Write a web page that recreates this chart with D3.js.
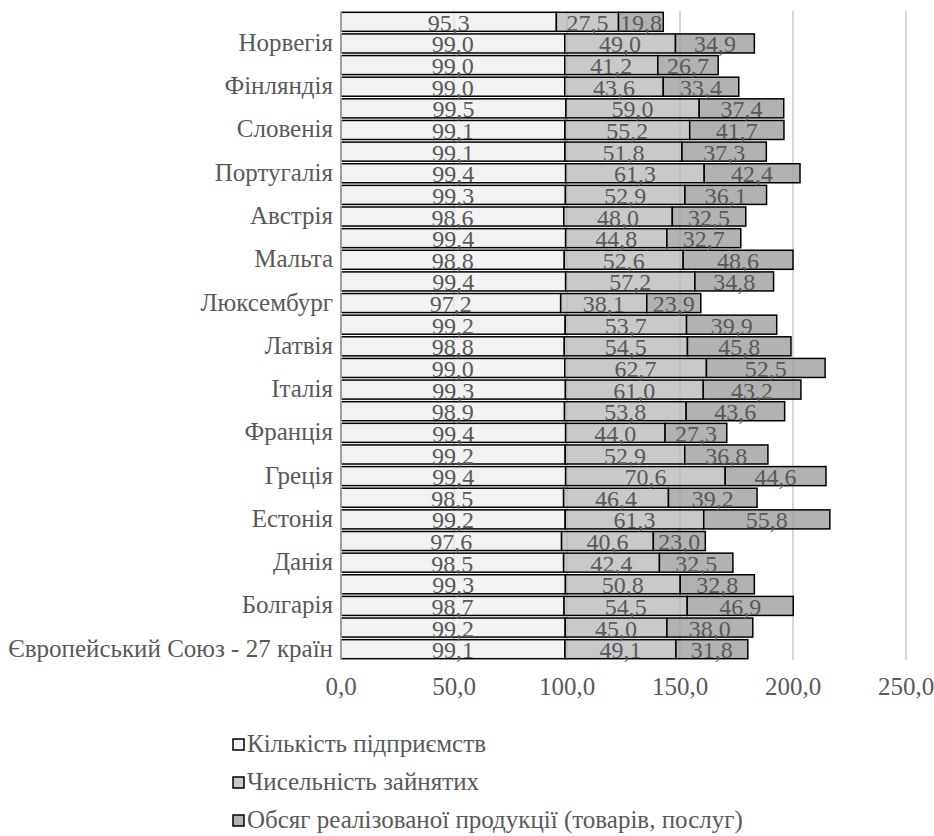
<!DOCTYPE html>
<html><head><meta charset="utf-8">
<script src="https://cdn.jsdelivr.net/npm/d3@7"></script>
<style>body{margin:0;background:#fff}svg{display:block}
text{font-family:"Liberation Serif","Times New Roman","DejaVu Serif",serif;fill:#595959}</style>
</head><body>
<svg id="c" width="934" height="836"></svg>
<script>
// categories top to bottom
const categories = ["Швейцарія","Норвегія","Швеція","Фінляндія","Словаччина","Словенія","Румунія","Португалія","Польща","Австрія","Нідерланди","Мальта","Угорщина","Люксембург","Литва","Латвія","Кіпр","Італія","Хорватія","Франція","Іспанія","Греція","Ірландія","Естонія","Німеччина","Данія","Чехія","Болгарія","Бельгія","Європейський Союз - 27 країн"];
const shownLabels = ["Норвегія","Фінляндія","Словенія","Португалія","Австрія","Мальта","Люксембург","Латвія","Італія","Франція","Греція","Естонія","Данія","Болгарія","Європейський Союз - 27 країн"];
const seriesNames = ["Кількість підприємств","Чисельність зайнятих","Обсяг реалізованої продукції (товарів, послуг)"];
const enterprises = [95.3,99.0,99.0,99.0,99.5,99.1,99.1,99.4,99.3,98.6,99.4,98.8,99.4,97.2,99.2,98.8,99.0,99.3,98.9,99.4,99.2,99.4,98.5,99.2,97.6,98.5,99.3,98.7,99.2,99.1];
const employed = [27.5,49.0,41.2,43.6,59.0,55.2,51.8,61.3,52.9,48.0,44.8,52.6,57.2,38.1,53.7,54.5,62.7,61.0,53.8,44.0,52.9,70.6,46.4,61.3,40.6,42.4,50.8,54.5,45.0,49.1];
const turnover = [19.8,34.9,26.7,33.4,37.4,41.7,37.3,42.4,36.1,32.5,32.7,48.6,34.8,23.9,39.9,45.8,52.5,43.2,43.6,27.3,36.8,44.6,39.2,55.8,23.0,32.5,32.8,46.9,38.0,31.8];
const xTicks = [0,50,100,150,200,250];

const colors = ["#f2f2f2","#c9c9c9","#b2b2b2"];
const fs = 25;

const svg = d3.select("#c");
const x = d3.scaleLinear().domain([0,250]).range([341,906]);
const y = d3.scaleBand().domain(categories).range([11,660]).paddingInner(0.12).paddingOuter(0.06);

// gridlines
svg.append("g").selectAll("line").data(xTicks.slice(1)).join("line")
  .attr("x1",d=>x(d)).attr("x2",d=>x(d)).attr("y1",y.range()[0]).attr("y2",y.range()[1])
  .attr("stroke","#d9d9d9").attr("stroke-width",1.5);

const stackData = categories.map((c,i)=>{const o={cat:c}; o[seriesNames[0]]=enterprises[i]; o[seriesNames[1]]=employed[i]; o[seriesNames[2]]=turnover[i]; return o;});
const stack = d3.stack().keys(seriesNames)(stackData);

const g = svg.append("g");
stack.forEach((layer,k)=>{
  g.append("g").selectAll("rect").data(layer).join("rect")
    .attr("x",d=>x(d[0])).attr("width",d=>x(d[1])-x(d[0]))
    .attr("y",d=>y(d.data.cat)).attr("height",y.bandwidth())
    .attr("fill",colors[k]).attr("stroke","#000").attr("stroke-width",1.5);
});
// faint gridlines over bars
svg.append("g").selectAll("line").data(xTicks.slice(1)).join("line")
  .attr("x1",d=>x(d)).attr("x2",d=>x(d)).attr("y1",y.range()[0]).attr("y2",y.range()[1])
  .attr("stroke","#000").attr("stroke-opacity",0.06).attr("stroke-width",1.5);

// axis line
svg.append("line").attr("x1",x(0)).attr("x2",x(0)).attr("y1",y.range()[0]).attr("y2",y.range()[1])
  .attr("stroke","#bfbfbf").attr("stroke-width",1.5);

// data labels
stack.forEach((layer,k)=>{
  g.append("g").selectAll("text").data(layer).join("text")
    .attr("x",d=>x((d[0]+d[1])/2)).attr("y",d=>y(d.data.cat)+y.bandwidth()-0.5)
    .attr("text-anchor","middle").attr("font-size",24)
    .text(d=>d3.format(".1f")(d[1]-d[0]).replace(".",","));
});

// category labels
svg.append("g").selectAll("text").data(categories.filter(c=>shownLabels.includes(c))).join("text")
  .attr("x",333).attr("y",d=>y(d)+y.bandwidth()/2).attr("dy","0.3em")
  .attr("text-anchor","end").attr("font-size",fs)
  .text(d=>d);

// x tick labels
svg.append("g").selectAll("text").data(xTicks).join("text")
  .attr("x",d=>x(d)).attr("y",695).attr("text-anchor","middle")
  .attr("font-size",fs)
  .text(d=>d3.format(".1f")(d).replace(".",","));

// legend
const lg = svg.append("g").selectAll("g").data(seriesNames).join("g")
  .attr("transform",(d,i)=>`translate(233,${752+i*38})`);
lg.append("rect").attr("x",0).attr("y",-13).attr("width",11).attr("height",11)
  .attr("fill",(d,i)=>colors[i]).attr("stroke","#000").attr("stroke-width",1.5);
lg.append("text").attr("x",14).attr("y",0)
  .attr("font-size",fs).text(d=>d);
</script>
</body></html>
